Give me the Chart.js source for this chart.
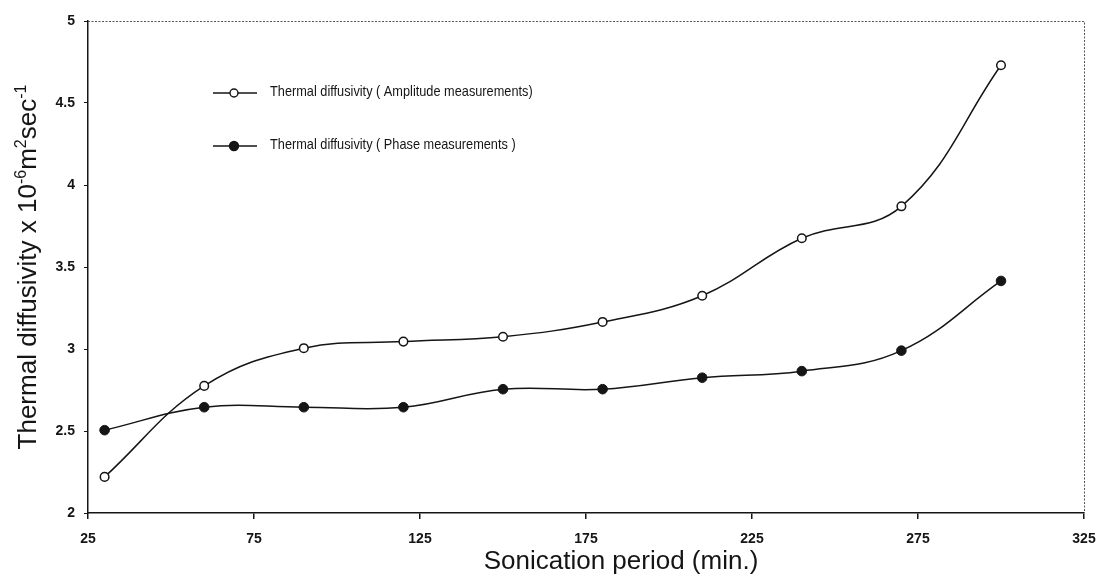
<!DOCTYPE html>
<html>
<head>
<meta charset="utf-8">
<script src="https://cdn.jsdelivr.net/npm/chart.js@4"></script>
<style>
  html, body { margin: 0; padding: 0; background: #fff; }
  #wrap { position: relative; width: 1097px; height: 579px; }
</style>
</head>
<body>
<div id="wrap"><canvas id="c" width="1097" height="579"></canvas></div>
<script>
// ---- data ----
const sonicationPeriod = [30, 60, 90, 120, 150, 180, 210, 240, 270, 300];
const amplitudeValues  = [2.22, 2.775, 3.005, 3.045, 3.075, 3.165, 3.325, 3.675, 3.87, 4.73];
const phaseValues      = [2.505, 2.645, 2.645, 2.645, 2.755, 2.755, 2.825, 2.865, 2.99, 3.415];
const seriesLabels = ['Thermal diffusivity ( Amplitude measurements)', 'Thermal diffusivity ( Phase measurements )'];
const xTickValues = [25, 75, 125, 175, 225, 275, 325];
const yTickLabels = ['2', '2.5', '3', '3.5', '4', '4.5', '5'];
const xTitle = 'Sonication period (min.)';
const yTitleParts = [
  { t: 'Thermal diffusivity x 10', sup: false },
  { t: '-6', sup: true },
  { t: 'm', sup: false },
  { t: '2', sup: true },
  { t: 'sec', sup: false },
  { t: '-1', sup: true }
];

const FONT = '"Liberation Sans", Arial, sans-serif';
const INK = '#151515';

const toXY = (ys) => sonicationPeriod.map((x, i) => ({ x: x, y: ys[i] }));

const decorPlugin = {
  id: 'decor',
  afterDraw(chart) {
    const ctx = chart.ctx;
    const a = chart.chartArea;
    ctx.save();
    // dotted top & right frame
    ctx.strokeStyle = '#555';
    ctx.lineWidth = 1;
    ctx.setLineDash([2, 1.5]);
    ctx.beginPath();
    ctx.moveTo(a.left, a.top + 0.5);
    ctx.lineTo(a.right + 0.5, a.top + 0.5);
    ctx.lineTo(a.right + 0.5, a.bottom);
    ctx.stroke();
    ctx.setLineDash([]);

    // legend (inside plot)
    const legendRows = [
      { y: 93, fill: '#fff', r: 4 },
      { y: 146, fill: INK, r: 4.5 }
    ];
    legendRows.forEach((row, i) => {
      ctx.strokeStyle = INK;
      ctx.lineWidth = 1.4;
      ctx.beginPath();
      ctx.moveTo(213, row.y);
      ctx.lineTo(257, row.y);
      ctx.stroke();
      ctx.beginPath();
      ctx.arc(234, row.y, row.r, 0, Math.PI * 2);
      ctx.fillStyle = row.fill;
      ctx.fill();
      ctx.stroke();
      ctx.save();
      ctx.translate(270, row.y);
      ctx.scale(0.85, 1);
      ctx.fillStyle = INK;
      ctx.font = '15px ' + FONT;
      ctx.textBaseline = 'middle';
      ctx.textAlign = 'left';
      ctx.fillText(seriesLabels[i], 0, -1);
      ctx.restore();
    });

    // x title
    ctx.fillStyle = INK;
    ctx.font = '26px ' + FONT;
    ctx.textAlign = 'center';
    ctx.textBaseline = 'alphabetic';
    ctx.fillText(xTitle, 621, 569);

    // y title (rotated, with superscripts)
    const big = '26px ' + FONT, small = '16px ' + FONT;
    let total = 0;
    yTitleParts.forEach(p => { ctx.font = p.sup ? small : big; total += ctx.measureText(p.t).width; });
    ctx.save();
    ctx.translate(36, (a.top + a.bottom) / 2);
    ctx.rotate(-Math.PI / 2);
    ctx.textAlign = 'left';
    let x = -total / 2;
    yTitleParts.forEach(p => {
      ctx.font = p.sup ? small : big;
      ctx.fillText(p.t, x, p.sup ? -10 : 0);
      x += ctx.measureText(p.t).width;
    });
    ctx.restore();
    ctx.restore();
  }
};

new Chart(document.getElementById('c'), {
  type: 'line',
  data: {
    datasets: [
      {
        label: seriesLabels[0],
        data: toXY(amplitudeValues),
        borderColor: INK,
        borderWidth: 1.5,
        backgroundColor: '#fff',
        pointBackgroundColor: '#fff',
        pointBorderColor: INK,
        pointBorderWidth: 1.5,
        pointRadius: 4.3,
        tension: 0.4,
        fill: false
      },
      {
        label: seriesLabels[1],
        data: toXY(phaseValues),
        borderColor: INK,
        borderWidth: 1.5,
        backgroundColor: INK,
        pointBackgroundColor: INK,
        pointBorderColor: INK,
        pointBorderWidth: 1,
        pointRadius: 4.8,
        tension: 0.4,
        fill: false
      }
    ]
  },
  options: {
    responsive: false,
    animation: false,
    events: [],
    layout: { padding: { left: 0, right: 13, top: 21, bottom: 0 } },
    plugins: { legend: { display: false }, tooltip: { enabled: false } },
    scales: {
      x: {
        type: 'linear',
        min: 25,
        max: 325,
        afterFit: (s) => { s.height = 66; s.paddingLeft = 0; s.paddingRight = 0; },
        afterBuildTicks: (s) => { s.ticks = xTickValues.map(v => ({ value: v })); },
        ticks: {
          color: INK,
          font: { family: FONT, size: 14, weight: 'bold' },
          padding: 12,
          maxRotation: 0,
          callback: (v) => String(v)
        },
        grid: { drawOnChartArea: false, drawTicks: true, tickLength: 6, color: INK, lineWidth: 1.5 },
        border: { display: true, color: INK, width: 1.5 },
        title: { display: false }
      },
      y: {
        type: 'linear',
        min: 2,
        max: 5,
        afterFit: (s) => { s.width = 88; s.paddingTop = 0; s.paddingBottom = 0; },
        afterBuildTicks: (s) => { s.ticks = yTickLabels.map(l => ({ value: parseFloat(l) })); },
        ticks: {
          color: INK,
          font: { family: FONT, size: 14, weight: 'bold' },
          padding: 9,
          callback: (v) => yTickLabels.find(l => parseFloat(l) === v) || String(v)
        },
        grid: { drawOnChartArea: false, drawTicks: true, tickLength: 4, color: INK, lineWidth: 1 },
        border: { display: true, color: INK, width: 1.5 },
        title: { display: false }
      }
    }
  },
  plugins: [decorPlugin]
});
</script>
</body>
</html>
